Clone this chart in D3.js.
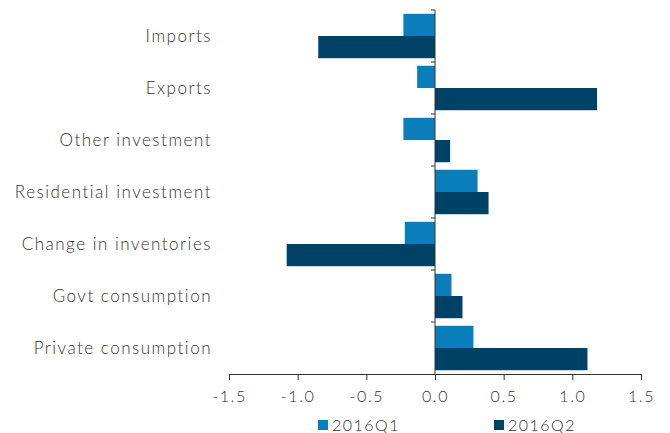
<!DOCTYPE html>
<html>
<head>
<meta charset="utf-8">
<script src="https://cdn.jsdelivr.net/npm/d3@7"></script>
<style>
  body { margin: 0; background: #fff; }
  text { font-family: Lato, "Open Sans", sans-serif; font-weight: 300; fill: #333; }
</style>
</head>
<body>
<script>
const w = 670
const h = 433

const categories = ['Imports', 'Exports', 'Other investment', 'Residential investment',
	'Change in inventories', 'Govt consumption', 'Private consumption']
const series = ['2016Q1', '2016Q2']
const q1 = [-0.23, -0.13, -0.23, 0.31, -0.22, 0.12, 0.28]
const q2 = [-0.85, 1.18, 0.11, 0.39, -1.08, 0.20, 1.11]
const xTicks = [-1.5, -1.0, -0.5, 0.0, 0.5, 1.0, 1.5]
const colors = ['#0a7dbb', '#004166']

const svg = d3.select('body')
	.append('svg')
	.attr('width', w)
	.attr('height', h)

const xScale = d3.scaleLinear()
	.domain([-1.5, 1.5])
	.range([229, 641])

const yScale = d3.scaleBand()
	.domain(categories)
	.range([10, 374])

const inner = d3.scaleBand()
	.domain(series)
	.range([0, yScale.bandwidth()])
	.paddingOuter(0.17)

const values = [q1, q2]

categories.forEach((c, i) => {
	series.forEach((s, j) => {
		const v = values[j][i]
		svg.append('rect')
			.attr('x', xScale(Math.min(0, v)))
			.attr('y', yScale(c) + inner(s))
			.attr('width', Math.abs(xScale(v) - xScale(0)))
			.attr('height', inner.bandwidth())
			.attr('fill', colors[j])
	})
})

// x axis
const xAxis = d3.axisBottom(xScale)
	.tickValues(xTicks)
	.tickFormat(d3.format('.1f'))
	.tickSize(6)
	.tickSizeOuter(0)

const gx = svg.append('g')
	.attr('transform', 'translate(0,374)')
	.call(xAxis)
gx.select('.domain').attr('stroke', '#333')
gx.selectAll('.tick line').attr('stroke', '#333')
gx.selectAll('.tick text')
	.attr('dy', '1.2em')
	.attr('font-size', '16px')
	.style('letter-spacing', '1.6px')
	.text(d => d3.format('.1f')(d).replace('\u2212', '-'))

// zero line with category ticks
const gy = svg.append('g')
	.attr('transform', `translate(${xScale(0)},0)`)
gy.append('line')
	.attr('y1', 10).attr('y2', 374)
	.attr('stroke', '#333')
gy.selectAll('.cat-tick')
	.data(categories)
	.enter()
	.append('line')
	.attr('x1', -4).attr('x2', 0)
	.attr('y1', d => yScale(d))
	.attr('y2', d => yScale(d))
	.attr('stroke', '#333')

// category labels
svg.selectAll('.cat')
	.data(categories)
	.enter()
	.append('text')
	.attr('x', 212)
	.attr('y', d => yScale(d) + yScale.bandwidth() / 2)
	.attr('dy', '0.35em')
	.attr('text-anchor', 'end')
	.attr('font-size', '17px')
	.style('letter-spacing', '1.5px')
	.text(d => d)

// legend
const legendX = [318, 494]
series.forEach((s, j) => {
	svg.append('rect')
		.attr('x', legendX[j])
		.attr('y', 420)
		.attr('width', 10)
		.attr('height', 10)
		.attr('fill', colors[j])
	svg.append('text')
		.attr('x', legendX[j] + 14)
		.attr('y', 425)
		.attr('dy', '0.35em')
		.attr('font-size', '16px')
		.style('letter-spacing', '1.5px')
		.text(s)
})
</script>
</body>
</html>
